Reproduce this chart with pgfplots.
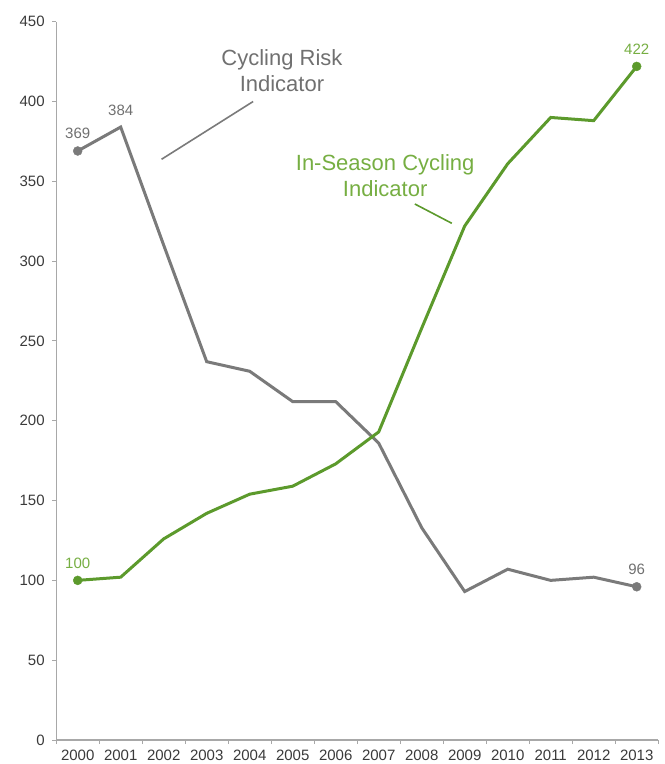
\documentclass[border=0pt]{standalone}
\usepackage{pgfplots}
\pgfplotsset{compat=1.18}
\usepackage{fontspec}
\setmainfont{Liberation Sans}

\definecolor{riskgray}{HTML}{7A7A7A}
\definecolor{risktext}{HTML}{707070}
\definecolor{seasongreen}{HTML}{5C9A2C}
\definecolor{seasontext}{HTML}{76AE42}
\definecolor{axisgray}{HTML}{A8A8A8}
\definecolor{ticktext}{HTML}{3A3A3A}

\begin{document}
\begin{tikzpicture}
\path[use as bounding box] (0,0) rectangle (665bp,764bp);
\begin{axis}[
  at={(56.2bp,24bp)}, anchor=south west,
  scale only axis, width=602bp, height=718.3bp,
  xmin=-0.5, xmax=13.5, ymin=0, ymax=450,
  axis x line*=bottom, axis y line*=left,
  axis line style={axisgray, line width=1.3bp},
  tick align=outside, major tick length=4bp, minor tick length=4bp,
  tick style={axisgray, line width=1bp},
  xtick={0,1,...,13},
  xticklabels={2000,2001,2002,2003,2004,2005,2006,2007,2008,2009,2010,2011,2012,2013},
  major x tick style={draw=none},
  minor xtick={-0.5,0.5,...,13.5},
  ytick={0,50,...,450},
  /pgf/number format/assume math mode=true,
  /pgf/number format/1000 sep={},
  ticklabel style={font=\fontsize{15bp}{18bp}\selectfont, color=ticktext},
  xticklabel style={yshift=-3bp},
  yticklabel style={xshift=-4bp},
  clip=false,
]
% Cycling Risk Indicator
\addplot[riskgray, line width=3bp] coordinates {
  (0,369) (1,384) (2,310) (3,237) (4,231) (5,212) (6,212)
  (7,186) (8,133) (9,93) (10,107) (11,100) (12,102) (13,96)};
% In-Season Cycling Indicator
\addplot[seasongreen, line width=3bp] coordinates {
  (0,100) (1,102) (2,126) (3,142) (4,154) (5,159) (6,173)
  (7,193) (8,258) (9,322) (10,361) (11,390) (12,388) (13,422)};
% end-point markers
\addplot[riskgray, only marks, mark=*, mark size=4.5bp] coordinates {(0,369) (13,96)};
\addplot[seasongreen, only marks, mark=*, mark size=4.5bp] coordinates {(0,100) (13,422)};
% value labels
\addplot[draw=none, mark=none, nodes near coords, point meta=y,
  every node near coord/.append style={anchor=base, yshift=12bp,
    font=\fontsize{15bp}{18bp}\selectfont, color=risktext}]
  coordinates {(0,369) (1,384) (13,96)};
\addplot[draw=none, mark=none, nodes near coords, point meta=y,
  every node near coord/.append style={anchor=base, yshift=12bp,
    font=\fontsize{15bp}{18bp}\selectfont, color=seasontext}]
  coordinates {(0,100) (13,422)};
% series captions with leader lines
\node[font=\fontsize{22bp}{26bp}\selectfont, color=risktext, align=center]
  at (4.75,419.5) {Cycling Risk\\Indicator};
\draw[riskgray, line width=1.6bp] (4.08,400) -- (1.95,363.8);
\node[font=\fontsize{22bp}{26bp}\selectfont, color=seasontext, align=center]
  at (7.15,353.5) {In-Season Cycling\\Indicator};
\draw[seasongreen, line width=1.6bp] (7.84,335.8) -- (8.70,323.7);
\end{axis}
\end{tikzpicture}
\end{document}
